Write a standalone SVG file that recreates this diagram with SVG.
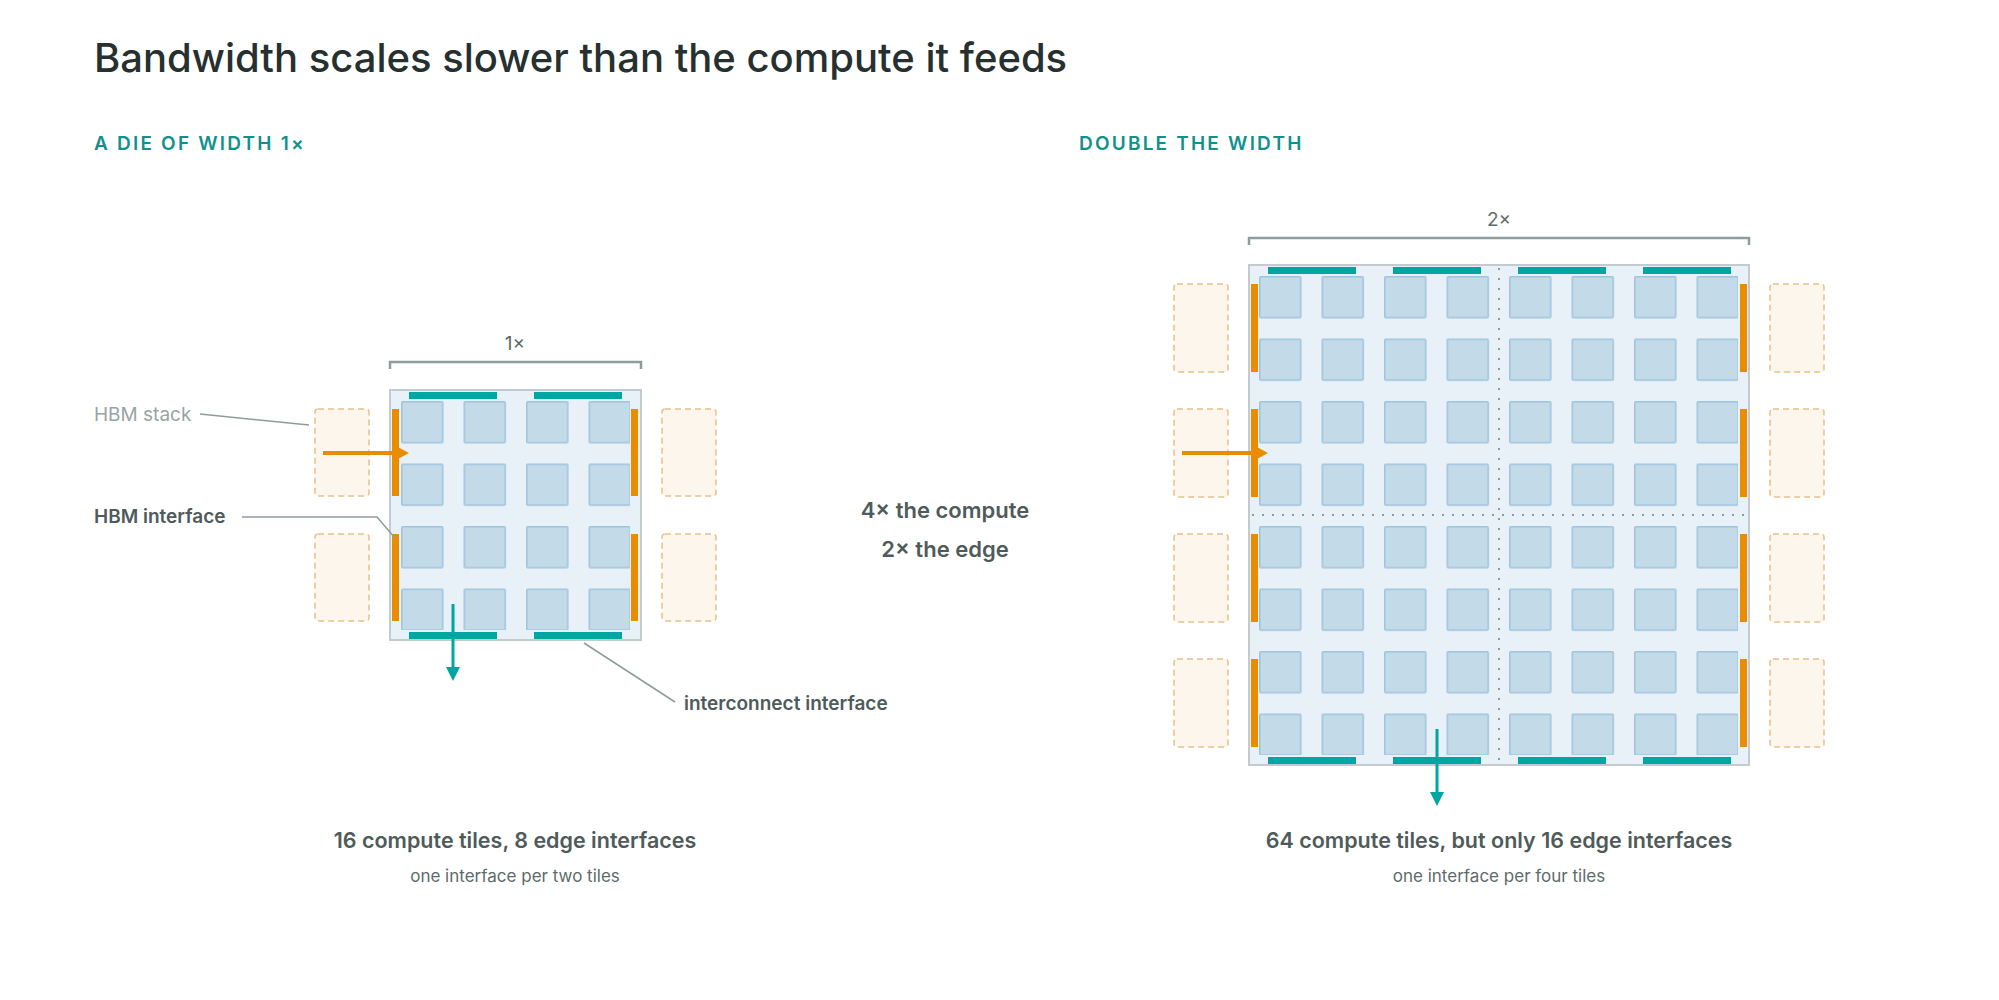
<svg xmlns="http://www.w3.org/2000/svg" width="1999" height="1000" viewBox="0 0 1999 1000">
<defs>
<style>
.t{font-family:"Inter","Liberation Sans",sans-serif}
.die{fill:#e9f1f8;stroke:#c3cbcf;stroke-width:2}
.tile{fill:#c3dae9;stroke:#9fc4dd;stroke-width:1.5}
.hbm{fill:#fdf6ec;stroke:#e8c089;stroke-width:1.5;stroke-dasharray:6 4}
.tb{fill:#00a6a1}
.ob{fill:#ea8c00}
.lead{stroke:#8f9c9c;stroke-width:1.5;fill:none}
.brk{stroke:#8f9c9c;stroke-width:2.5;fill:none}
.div{stroke:#8f9c9c;stroke-width:2;stroke-dasharray:2 8}
</style>
<pattern id="tiles" x="401" y="401" width="62.5" height="62.5" patternUnits="userSpaceOnUse"><rect class="tile" x="0.75" y="0.75" width="41" height="41" rx="1"/></pattern>
<pattern id="tilesB" x="1259" y="276" width="62.5" height="62.5" patternUnits="userSpaceOnUse"><rect class="tile" x="0.75" y="0.75" width="41" height="41" rx="1"/></pattern>
</defs>
<rect width="1999" height="1000" fill="#fff"/>
<text class="t" x="94" y="72" font-size="40" font-weight="500" fill="#26302f">Bandwidth scales slower than the compute it feeds</text>
<text class="t" x="94" y="150" font-size="19" font-weight="600" letter-spacing="2.2" fill="#12908e">A DIE OF WIDTH 1×</text>
<text class="t" x="1079" y="150" font-size="19" font-weight="600" letter-spacing="2.2" fill="#12908e">DOUBLE THE WIDTH</text>

<g id="die-small">
<path class="brk" d="M390,369V362H641V369"/>
<text class="t" x="515" y="350" font-size="19" fill="#5d6b6a" text-anchor="middle">1×</text>
<rect class="hbm" x="315" y="409" width="54" height="87" rx="3"/>
<rect class="hbm" x="315" y="534" width="54" height="87" rx="3"/>
<rect class="hbm" x="662" y="409" width="54" height="87" rx="3"/>
<rect class="hbm" x="662" y="534" width="54" height="87" rx="3"/>
<rect class="die" x="390" y="390" width="251" height="250"/>
<rect x="400" y="400" width="230" height="230" fill="url(#tiles)"/>
<rect class="tb" x="409" y="392" width="88" height="7"/>
<rect class="tb" x="534" y="392" width="88" height="7"/>
<rect class="tb" x="409" y="632" width="88" height="7"/>
<rect class="tb" x="534" y="632" width="88" height="7"/>
<rect class="ob" x="392" y="409" width="7" height="87"/>
<rect class="ob" x="392" y="534" width="7" height="87"/>
<rect class="ob" x="631" y="409" width="7" height="87"/>
<rect class="ob" x="631" y="534" width="7" height="87"/>
</g>

<g id="die-big">
<path class="brk" d="M1249,245V238H1749V245"/>
<text class="t" x="1499" y="226" font-size="19" fill="#5d6b6a" text-anchor="middle">2×</text>
<g>
<rect class="hbm" x="1174" y="284" width="54" height="88" rx="3"/>
<rect class="hbm" x="1174" y="409" width="54" height="88" rx="3"/>
<rect class="hbm" x="1174" y="534" width="54" height="88" rx="3"/>
<rect class="hbm" x="1174" y="659" width="54" height="88" rx="3"/>
<rect class="hbm" x="1770" y="284" width="54" height="88" rx="3"/>
<rect class="hbm" x="1770" y="409" width="54" height="88" rx="3"/>
<rect class="hbm" x="1770" y="534" width="54" height="88" rx="3"/>
<rect class="hbm" x="1770" y="659" width="54" height="88" rx="3"/>
</g>
<rect class="die" x="1249" y="265" width="500" height="500"/>
<rect x="1258" y="275" width="480" height="480" fill="url(#tilesB)"/>
<line class="div" x1="1499" y1="268" x2="1499" y2="762"/>
<line class="div" x1="1252" y1="515" x2="1746" y2="515"/>
<g class="tb">
<rect x="1268" y="267" width="88" height="7"/><rect x="1393" y="267" width="88" height="7"/><rect x="1518" y="267" width="88" height="7"/><rect x="1643" y="267" width="88" height="7"/>
<rect x="1268" y="757" width="88" height="7"/><rect x="1393" y="757" width="88" height="7"/><rect x="1518" y="757" width="88" height="7"/><rect x="1643" y="757" width="88" height="7"/>
</g>
<g class="ob">
<rect x="1251" y="284" width="7" height="88"/><rect x="1251" y="409" width="7" height="88"/><rect x="1251" y="534" width="7" height="88"/><rect x="1251" y="659" width="7" height="88"/>
<rect x="1740" y="284" width="7" height="88"/><rect x="1740" y="409" width="7" height="88"/><rect x="1740" y="534" width="7" height="88"/><rect x="1740" y="659" width="7" height="88"/>
</g>
</g>

<g id="connectors">
<line x1="323" y1="453" x2="398" y2="453" stroke="#ea8c00" stroke-width="4"/>
<path d="M396,446L409,453L396,460z" fill="#ea8c00"/>
<line x1="453" y1="604" x2="453" y2="668" stroke="#00a6a1" stroke-width="3"/>
<path d="M446,667L453,681L460,667z" fill="#00a6a1"/>
<line x1="1182" y1="453" x2="1257" y2="453" stroke="#ea8c00" stroke-width="4"/>
<path d="M1255,446L1268,453L1255,460z" fill="#ea8c00"/>
<line x1="1437" y1="729" x2="1437" y2="793" stroke="#00a6a1" stroke-width="3"/>
<path d="M1430,792L1437,806L1444,792z" fill="#00a6a1"/>
<path class="lead" d="M200,414L309,425"/>
<path class="lead" d="M242,517H377L395,538"/>
<path class="lead" d="M584,643L675,702"/>
</g>

<g id="labels">
<text class="t" x="94" y="421" font-size="19" fill="#98a4a3">HBM stack</text>
<text class="t" x="94" y="523" font-size="19" font-weight="600" fill="#4f5b5a">HBM interface</text>
<text class="t" x="684" y="710" font-size="19" font-weight="600" fill="#4f5b5a">interconnect interface</text>
<text class="t" x="945" y="518" font-size="22" font-weight="600" fill="#4f5b5a" text-anchor="middle">4× the compute</text>
<text class="t" x="945" y="557" font-size="22" font-weight="600" fill="#4f5b5a" text-anchor="middle">2× the edge</text>
<text class="t" x="515" y="848" font-size="21.5" font-weight="600" fill="#4f5b5a" text-anchor="middle">16 compute tiles, 8 edge interfaces</text>
<text class="t" x="515" y="882" font-size="17" fill="#5d6b6a" text-anchor="middle">one interface per two tiles</text>
<text class="t" x="1499" y="848" font-size="21.5" font-weight="600" fill="#4f5b5a" text-anchor="middle">64 compute tiles, but only 16 edge interfaces</text>
<text class="t" x="1499" y="882" font-size="17" fill="#5d6b6a" text-anchor="middle">one interface per four tiles</text>
</g>
</svg>
